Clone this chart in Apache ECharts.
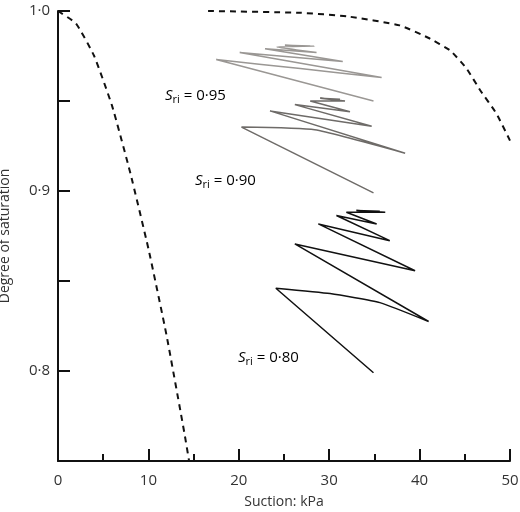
<!DOCTYPE html>
<html>
<head>
<meta charset="utf-8">
<script src="https://cdn.jsdelivr.net/npm/echarts@6/dist/echarts.min.js"></script>
<style>html,body{margin:0;padding:0;background:#fff}#c{width:520px;height:512px}</style>
</head>
<body>
<div id="c"></div>
<script>
// [suction kPa, degree of saturation]
var leftBound = [[0,1.0],[2,0.993],[4,0.975],[6,0.947],[8,0.91],[10,0.868],[12,0.82],[14,0.765],[14.5,0.75]];
var rightBound = [[16.6,1.0],[26.8,0.999],[32,0.997],[37.8,0.992],[41,0.985],[43.4,0.978],[45.2,0.968],[46.7,0.956],[48.5,0.943],[50,0.928]];
var sri095 = [[34.9,0.950],[17.5,0.973],[26.8,0.968],[35.8,0.963],[20.1,0.977],[31.5,0.972],[22.9,0.979],[28.6,0.977],[24.2,0.980],[28.4,0.9805],[25.1,0.981],[27.9,0.9805]];
var sri090 = [[34.9,0.899],[20.3,0.9355],[28.4,0.934],[38.4,0.921],[23.45,0.9445],[34.7,0.936],[26.2,0.948],[32.3,0.944],[27.9,0.950],[31.75,0.950],[29.0,0.9515],[31.2,0.951]];
var sri080 = [[34.9,0.799],[24.1,0.846],[30.1,0.843],[35.6,0.838],[41.0,0.8275],[26.2,0.8706],[39.5,0.8557],[28.8,0.8817],[36.7,0.8724],[30.8,0.8864],[35.25,0.8817],[31.9,0.8882],[36.2,0.8882],[33.0,0.8891],[35.6,0.8887]];

var chart = echarts.init(document.getElementById('c'));
function dot(v){ return v.toFixed(1).replace('.', '\u00b7'); }
function line(d, color, dashed){
  return {type:'line', data:d, symbol:'none', smooth:0.15, silent:true,
    lineStyle:{color:color, width:dashed?2:1.5, type:dashed?[6,5]:'solid'}};
}
var rich = {s:{fontStyle:'italic',fontSize:15,color:'#222',fontFamily:'Open Sans'},
  sub:{fontSize:11,color:'#222',padding:[8,0,0,0],fontFamily:'Open Sans'},
  n:{fontSize:15,color:'#222',fontFamily:'Open Sans'}};
function lbl(x,y,t){ return {type:'text', left:x, top:y, style:{text:'{s|S}{sub|ri}{n| = '+t+'}', rich:rich}}; }
chart.setOption({
  animation:false,
  grid:{left:58, top:11, right:10, bottom:51, outerBoundsMode:'none', containLabel:false},
  xAxis:{type:'value', min:0, max:50, interval:10,
    name:'Suction: kPa', nameLocation:'middle', nameGap:34,
    nameTextStyle:{fontSize:14,color:'#333',fontFamily:'Open Sans'},
    axisLine:{lineStyle:{color:'#111',width:2}},
    axisTick:{inside:true,length:12,lineStyle:{color:'#111',width:2}},
    minorTick:{show:true,splitNumber:2,length:7,lineStyle:{color:'#111',width:2}},
    axisLabel:{fontSize:15,color:'#333',margin:12,fontFamily:'Open Sans'},
    splitLine:{show:false}},
  yAxis:{type:'value', min:0.75, max:1.0, interval:0.05,
    name:'Degree of saturation', nameLocation:'middle', nameGap:46,
    nameTextStyle:{fontSize:14,color:'#333',fontFamily:'Open Sans'},
    axisLine:{show:true,lineStyle:{color:'#111',width:2}},
    axisTick:{show:true,inside:true,length:12,lineStyle:{color:'#111',width:2}},
    axisLabel:{fontSize:15,color:'#333',fontFamily:'Open Sans',
      formatter:function(v){ var r=Math.round(v*100); return (r%10===0 && r>=80)?dot(v):''; }},
    splitLine:{show:false}},
  graphic:[lbl(165,88,'0\u00b795'), lbl(195,173,'0\u00b790'), lbl(238,350,'0\u00b780')],
  series:[
    line(leftBound,'#111',true),
    line(rightBound,'#111',true),
    line(sri095,'#9a9794',false),
    line(sri090,'#6e6b68',false),
    line(sri080,'#111',false)
  ]
});
</script>
</body>
</html>
